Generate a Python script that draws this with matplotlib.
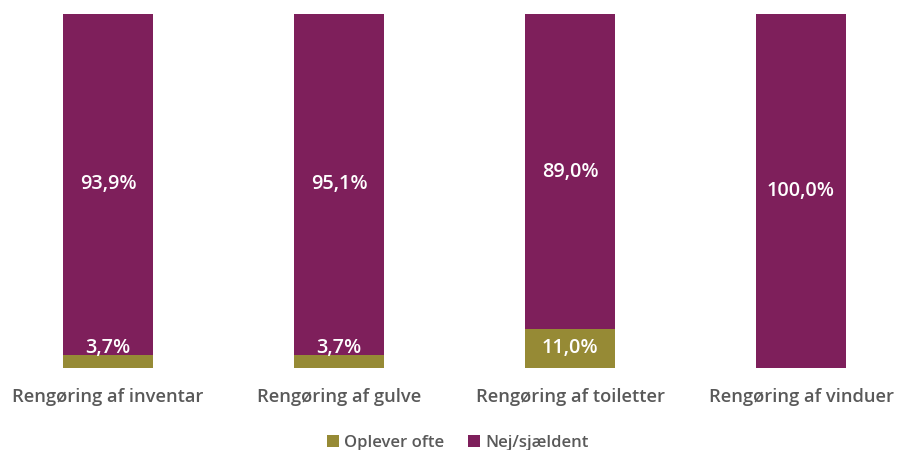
import matplotlib
matplotlib.use('Agg')
import matplotlib.pyplot as plt
import numpy as np

plt.rcParams['font.family'] = ['Open Sans', 'DejaVu Sans']

categories = ['Rengøring af inventar', 'Rengøring af gulve', 'Rengøring af toiletter', 'Rengøring af vinduer']
oplever_ofte = [3.7, 3.7, 11.0, 0.0]
nej_sjaeldent = [93.9, 95.1, 89.0, 100.0]

olive = '#968A35'
purple = '#7E1F5B'
grey = '#595959'

# 100% stacked: each bar is scaled to its own total
ofte = np.array(oplever_ofte)
nej = np.array(nej_sjaeldent)
total = ofte + nej
ofte_pct = ofte / total * 100
nej_pct = nej / total * 100

x = np.arange(len(categories))

fig = plt.figure(figsize=(8.97, 4.5), dpi=100)
ax = fig.add_axes([0, 1 - 368 / 450, 1, 354 / 450])

w = 0.39
ax.bar(x, ofte_pct, w, color=olive, label='Oplever ofte')
ax.bar(x, nej_pct, w, bottom=ofte_pct, color=purple, label='Nej/sjældent')

for i in range(len(x)):
    if ofte[i] > 0:
        y = max(ofte_pct[i] / 2, 5.6)
        ax.text(x[i], y, f'{ofte[i]:.1f}%'.replace('.', ','), ha='center', va='center',
                color='white', fontsize=14.3, fontweight='semibold')
    ax.text(x[i], ofte_pct[i] + nej_pct[i] / 2, f'{nej[i]:.1f}%'.replace('.', ','),
            ha='center', va='center', color='white', fontsize=14.3, fontweight='semibold')
    ax.text(x[i], -8.3, categories[i], ha='center', va='center', color=grey,
            fontsize=13.2, fontweight='semibold')

ax.set_xlim(-108 / 231, 3 + 96 / 231)
ax.set_ylim(0, 100)
ax.axis('off')

fig.legend(loc='lower center', bbox_to_anchor=(0.51, -0.035), ncol=2, frameon=False,
           handlelength=0.75, handleheight=0.75, handletextpad=0.3, columnspacing=1.4,
           prop={'size': 12, 'weight': 'semibold'}, labelcolor=grey)

fig.savefig('out.png', dpi=100)
